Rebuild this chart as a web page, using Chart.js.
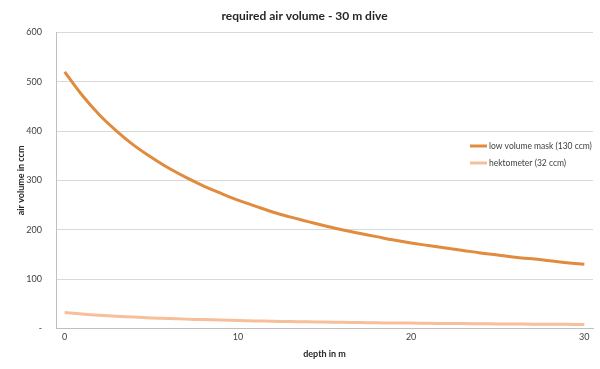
<!DOCTYPE html>
<html>
<head>
<meta charset="utf-8">
<script src="https://cdn.jsdelivr.net/npm/chart.js@4/dist/chart.umd.min.js"></script>
<style>
  html, body { margin: 0; padding: 0; background: #fff; }
  #wrap { position: relative; width: 600px; height: 369px; }
</style>
</head>
<body>
<div id="wrap"><canvas id="chart" width="600" height="369"></canvas></div>
<script>
// depth in metres, one point per metre
const depths = [0, 1, 2, 3, 4, 5, 6, 7, 8, 9, 10, 11, 12, 13, 14, 15, 16, 17, 18, 19, 20,
                21, 22, 23, 24, 25, 26, 27, 28, 29, 30];

// air volume (ccm)
const lowVolumeMask = [520, 473, 433, 400, 371, 347, 325, 306, 289, 274, 260,
                       248, 236, 226, 217, 208, 200, 193, 186, 179, 173,
                       168, 163, 158, 153, 149, 144, 141, 137, 133, 130];
const hektometer = [32, 29.1, 26.7, 24.6, 22.9, 21.3, 20, 18.8, 17.8, 16.8, 16,
                    15.2, 14.5, 13.9, 13.3, 12.8, 12.3, 11.9, 11.4, 11, 10.7,
                    10.3, 10, 9.7, 9.4, 9.1, 8.9, 8.6, 8.4, 8.2, 8];

const FONT = 'Lato, "Open Sans", sans-serif';

// legend drawn inside the plot area, like the original
const insideLegend = {
    id: 'insideLegend',
    afterDatasetsDraw(chart) {
        const ctx = chart.ctx;
        const x = 470, y0 = 146, gap = 17;
        ctx.save();
        ctx.font = '8.5px ' + FONT;
        ctx.textBaseline = 'middle';
        chart.data.datasets.forEach((ds, i) => {
            const y = y0 + i * gap;
            ctx.strokeStyle = ds.borderColor;
            ctx.lineWidth = 3;
            ctx.beginPath();
            ctx.moveTo(x, y);
            ctx.lineTo(x + 17, y);
            ctx.stroke();
            ctx.fillStyle = '#404040';
            ctx.fillText(ds.label, x + 19, y);
        });
        ctx.restore();
    }
};

const ctx = document.getElementById('chart').getContext('2d');
new Chart(ctx, {
    type: 'line',
    data: {
        labels: depths,
        datasets: [
            {
                label: 'low volume mask (130 ccm)',
                data: lowVolumeMask,
                borderColor: '#E08B3E',
                borderWidth: 3,
                pointRadius: 0,
                tension: 0.4
            },
            {
                label: 'hektometer (32 ccm)',
                data: hektometer,
                borderColor: '#F6BF9A',
                borderWidth: 3,
                pointRadius: 0,
                tension: 0.4
            }
        ]
    },
    options: {
        responsive: false,
        animation: false,
        layout: { padding: { left: 16, right: 7, top: 0, bottom: 10 } },
        plugins: {
            legend: { display: false },
            tooltip: { enabled: false },
            title: {
                display: true,
                text: 'required air volume - 30 m dive',
                color: '#262626',
                font: { family: FONT, size: 12, weight: 'bold' },
                padding: { top: 9, bottom: 9 }
            }
        },
        scales: {
            x: {
                offset: true,
                grid: { display: false, drawTicks: false },
                border: { display: true, color: '#c0c0c0' },
                ticks: {
                    autoSkip: false,
                    maxRotation: 0,
                    padding: 3,
                    color: '#404040',
                    font: { family: FONT, size: 9 },
                    callback: function (v, i) {
                        return depths[i] % 10 === 0 ? depths[i] : '';
                    }
                },
                title: {
                    display: true,
                    text: 'depth in m',
                    color: '#262626',
                    font: { family: FONT, size: 9, weight: 'bold' },
                    padding: { top: 3, bottom: 0 }
                }
            },
            y: {
                min: 0,
                max: 600,
                afterFit: function (scale) { scale.width = 40; },
                grid: { color: '#d9d9d9', drawTicks: false },
                border: { display: true, color: '#c0c0c0' },
                ticks: {
                    stepSize: 100,
                    padding: 14,
                    color: '#404040',
                    font: { family: FONT, size: 9 },
                    callback: function (v) { return v === 0 ? '-' : v; }
                },
                title: {
                    display: true,
                    text: 'air volume in ccm',
                    color: '#262626',
                    font: { family: FONT, size: 9, weight: 'bold' },
                    padding: { top: 0, bottom: 0 }
                }
            }
        }
    },
    plugins: [insideLegend]
});
</script>
</body>
</html>
